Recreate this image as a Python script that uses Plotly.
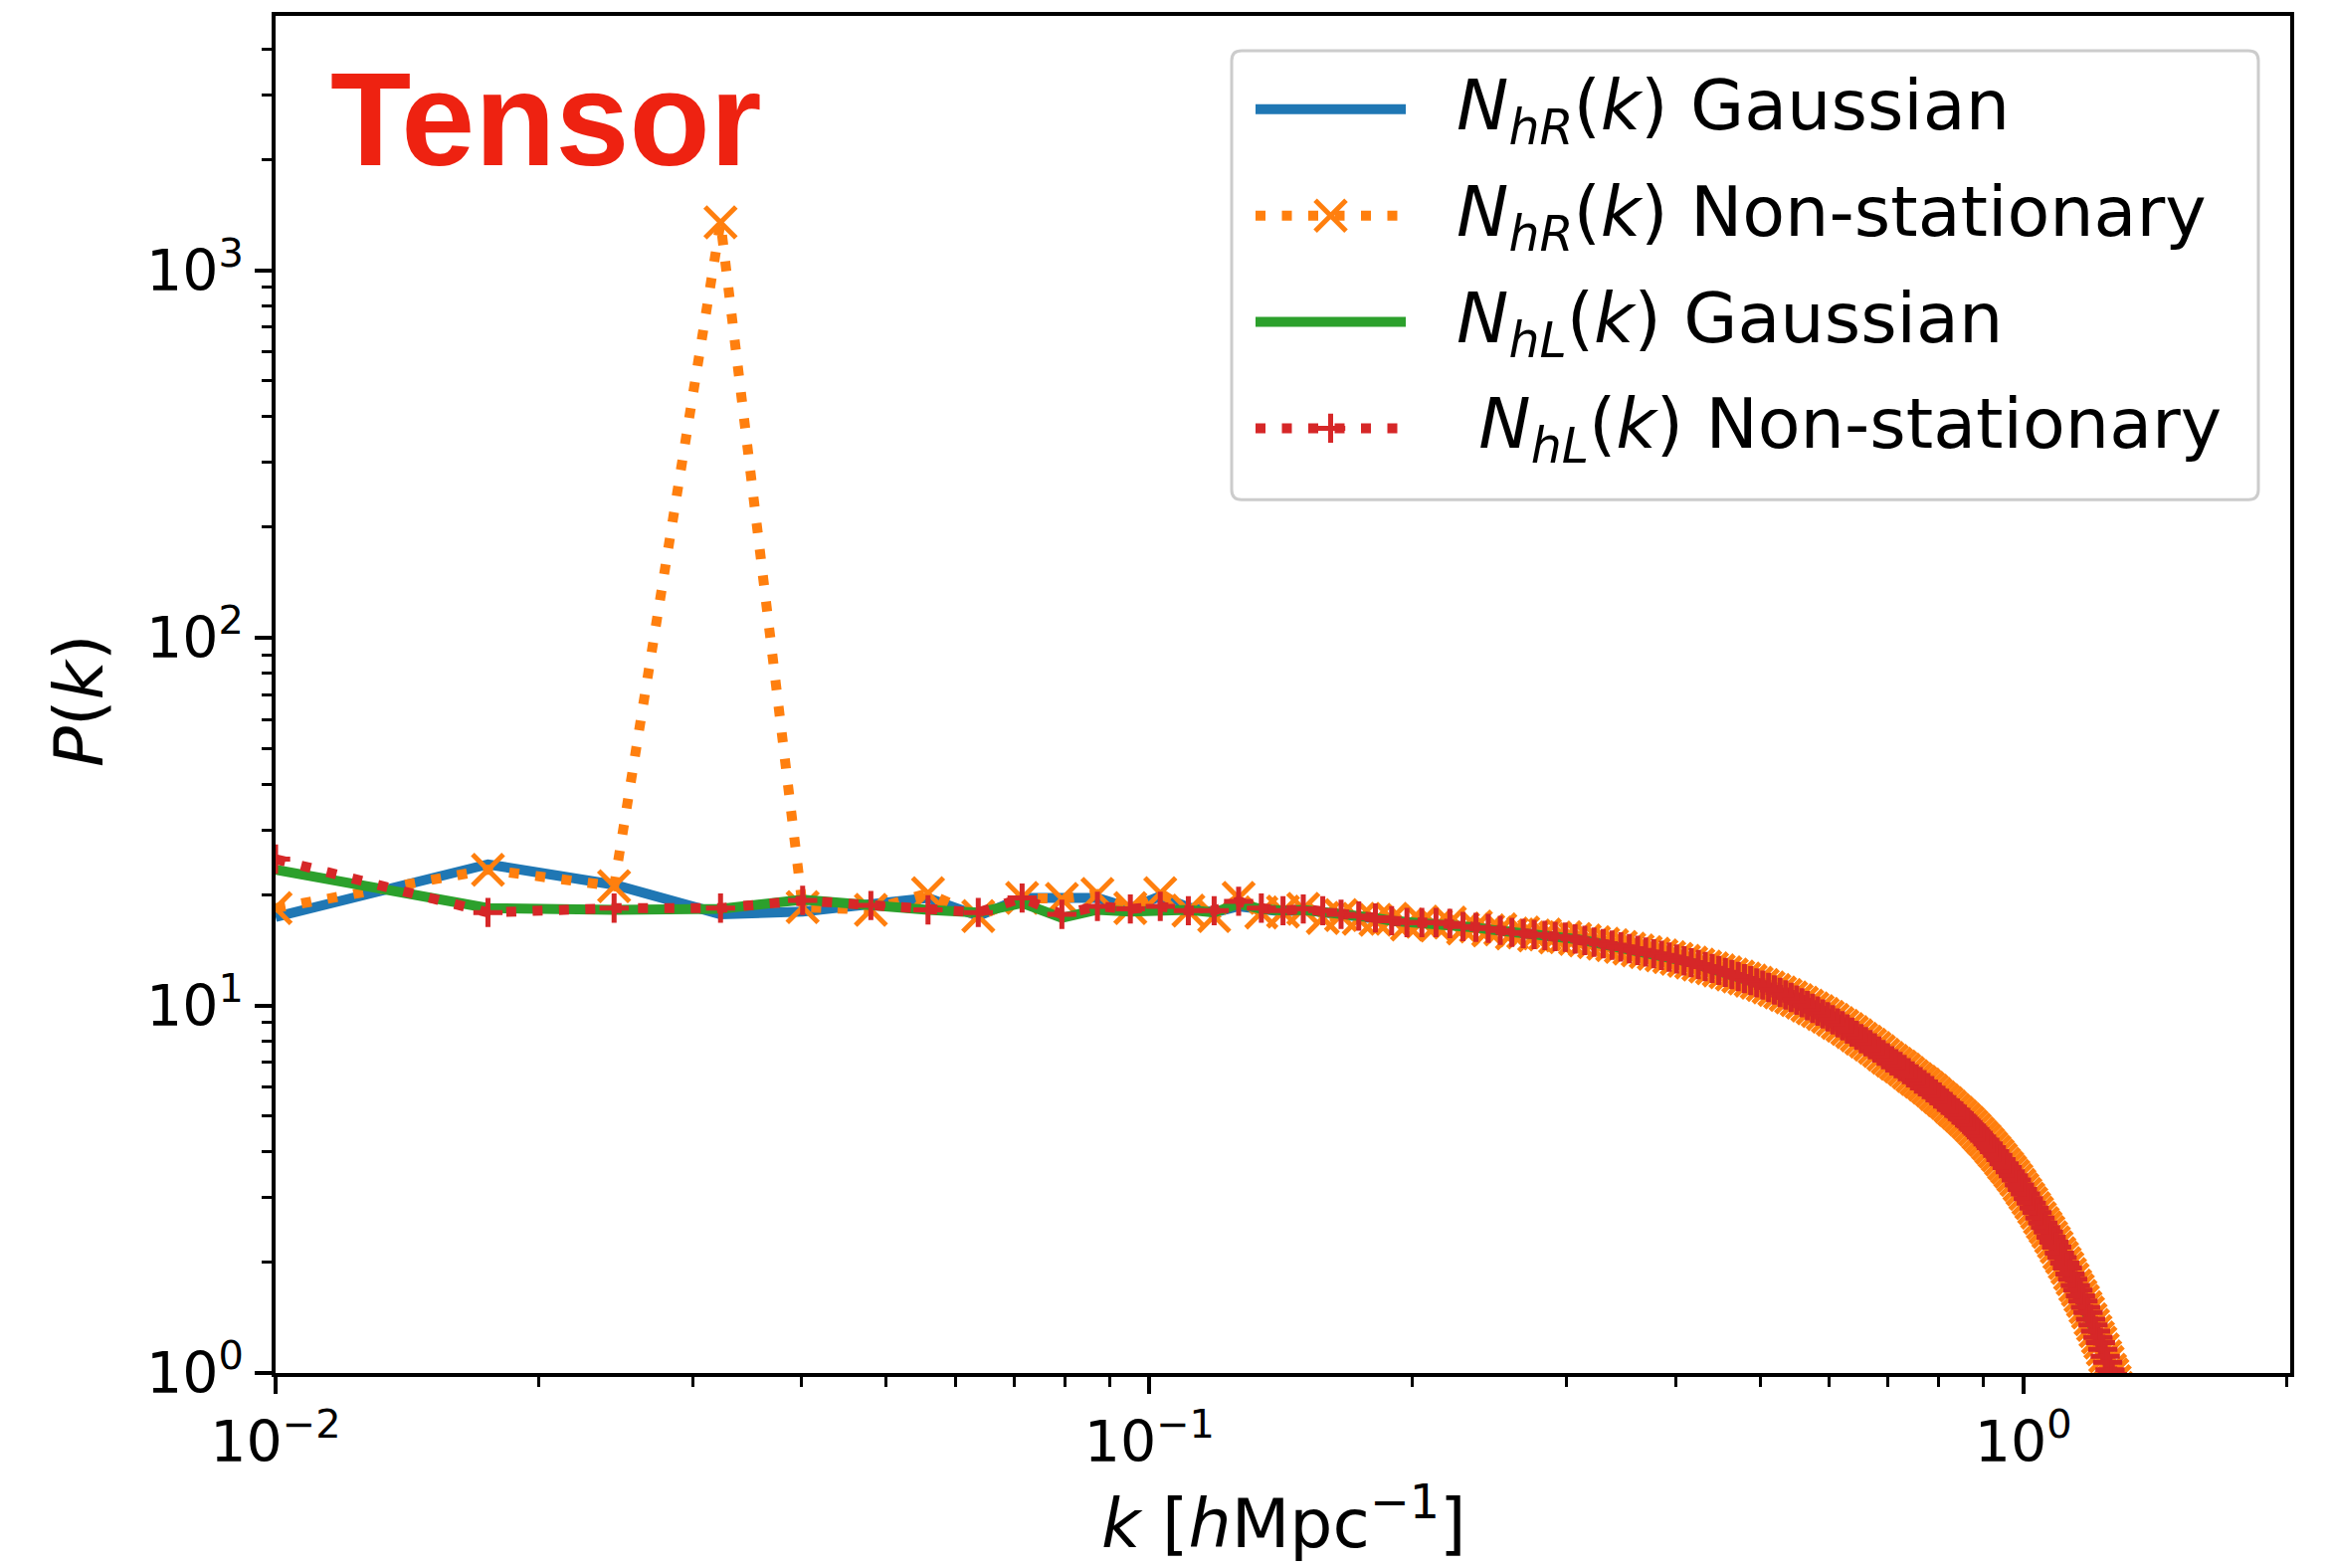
import plotly.graph_objects as go

# ---------------- data ----------------
k = [0.0100, 0.0175, 0.0244, 0.0323, 0.0401, 0.0480, 0.0558, 0.0637, 0.0715, 0.0794,
     0.0872, 0.0951, 0.1029, 0.1108, 0.1186, 0.1265, 0.1343, 0.1422, 0.1500, 0.1579,
     0.1657, 0.1736, 0.1814, 0.1893, 0.1971, 0.2050, 0.2128, 0.2207, 0.2285, 0.2364,
     0.2442, 0.2521, 0.2599, 0.2678, 0.2756, 0.2835, 0.2913, 0.2992, 0.3070, 0.3149,
     0.3227, 0.3306, 0.3384, 0.3463, 0.3541, 0.3620, 0.3698, 0.3777, 0.3855, 0.3934,
     0.4012, 0.4091, 0.4169, 0.4248, 0.4326, 0.4405, 0.4483, 0.4562, 0.4640, 0.4719,
     0.4797, 0.4876, 0.4954, 0.5033, 0.5111, 0.5190, 0.5268, 0.5347, 0.5425, 0.5504,
     0.5582, 0.5661, 0.5739, 0.5818, 0.5896, 0.5975, 0.6053, 0.6132, 0.6210, 0.6289,
     0.6367, 0.6446, 0.6524, 0.6603, 0.6681, 0.6760, 0.6838, 0.6917, 0.6995, 0.7074,
     0.7152, 0.7231, 0.7309, 0.7388, 0.7466, 0.7545, 0.7623, 0.7702, 0.7780, 0.7859,
     0.7937, 0.8016, 0.8094, 0.8173, 0.8251, 0.8330, 0.8408, 0.8487, 0.8565, 0.8644,
     0.8722, 0.8801, 0.8879, 0.8958, 0.9036, 0.9115, 0.9193, 0.9272, 0.9350, 0.9429,
     0.9507, 0.9586, 0.9664, 0.9743, 0.9821, 0.9900, 0.9978, 1.0057, 1.0135, 1.0214,
     1.0292, 1.0371, 1.0449, 1.0528, 1.0606, 1.0685, 1.0763, 1.0842, 1.0920, 1.0999,
     1.1077, 1.1156, 1.1234, 1.1313, 1.1391, 1.1470, 1.1548, 1.1627, 1.1705, 1.1784,
     1.1862, 1.1941, 1.2019, 1.2098, 1.2176, 1.2255, 1.2333, 1.2412, 1.2490, 1.2569,
     1.2647, 1.2726, 1.2804, 1.2883, 1.2961, 1.3040]

# low-k part (first 37 bins) of each series
hR_gauss_low = [17.4, 24.2, 21.3, 17.7, 18.0, 18.9, 19.6, 17.5, 19.6, 19.6,
                19.6, 18.4, 19.8, 18.5, 17.9, 18.6, 18.3, 18.0, 18.2, 17.9,
                17.6, 17.4, 17.2, 17.1, 16.8, 16.9, 16.6, 16.7, 16.3, 16.3,
                16.1, 16.0, 15.8, 15.7, 15.6, 15.5, 15.4]
hR_nonstat_low = [18.4, 23.4, 21.1, 1350, 18.5, 18.2, 20.2, 17.5, 19.6, 19.5,
                  20.1, 18.4, 20.2, 18.1, 17.5, 19.6, 17.9, 18.0, 18.3, 17.3,
                  17.6, 17.2, 17.1, 17.2, 16.6, 16.9, 16.5, 16.8, 16.2, 16.4,
                  16.0, 16.1, 15.7, 15.8, 15.5, 15.6, 15.3]
hL_gauss_low = [23.4, 18.4, 18.2, 18.3, 19.4, 18.6, 18.2, 17.9, 19.0, 17.3,
                18.2, 18.0, 18.0, 18.2, 17.9, 18.9, 18.3, 18.1, 18.2, 18.0,
                17.7, 17.4, 17.3, 17.0, 16.9, 16.8, 16.7, 16.6, 16.4, 16.3,
                16.1, 16.0, 15.8, 15.7, 15.6, 15.5, 15.4]
hL_nonstat_low = [25.0, 17.9, 18.4, 18.4, 19.3, 18.7, 18.2, 17.9, 19.6, 17.7,
                  18.6, 18.3, 18.6, 18.1, 18.1, 19.2, 18.4, 18.1, 18.3, 18.1,
                  17.7, 17.5, 17.3, 17.0, 16.8, 16.8, 16.8, 16.7, 16.4, 16.3,
                  16.2, 16.0, 15.8, 15.7, 15.6, 15.5, 15.4]

# high-k part, where all four spectra coincide
common_tail = [15.33, 15.17, 15.02, 14.86, 14.72, 14.58, 14.43, 14.27, 14.12, 13.97,
               13.82, 13.68, 13.53, 13.38, 13.22, 13.07, 12.91, 12.76, 12.61, 12.45,
               12.30, 12.14, 11.99, 11.83, 11.68, 11.52, 11.36, 11.19, 11.02, 10.85,
               10.68, 10.51, 10.34, 10.17, 9.99, 9.82, 9.65, 9.48, 9.31, 9.14,
               8.96, 8.80, 8.63, 8.46, 8.29, 8.12, 7.97, 7.82, 7.66, 7.51,
               7.35, 7.20, 7.07, 6.94, 6.82, 6.69, 6.56, 6.43, 6.31, 6.20,
               6.09, 5.97, 5.86, 5.74, 5.63, 5.52, 5.42, 5.31, 5.20, 5.10,
               5.00, 4.90, 4.80, 4.70, 4.60, 4.49, 4.39, 4.30, 4.20, 4.10,
               4.00, 3.91, 3.81, 3.71, 3.62, 3.53, 3.44, 3.35, 3.25, 3.16,
               3.07, 2.98, 2.90, 2.81, 2.73, 2.64, 2.56, 2.49, 2.42, 2.34,
               2.27, 2.20, 2.12, 2.06, 1.99, 1.93, 1.86, 1.80, 1.73, 1.68,
               1.62, 1.57, 1.51, 1.46, 1.40, 1.35, 1.30, 1.25, 1.21, 1.16,
               1.11, 1.07, 1.02, 0.99, 0.95, 0.91, 0.87, 0.83, 0.80]

series_names = ["<i>N</i><sub><i>hR</i></sub>(<i>k</i>) Gaussian",
                "<i>N</i><sub><i>hR</i></sub>(<i>k</i>) Non-stationary",
                "<i>N</i><sub><i>hL</i></sub>(<i>k</i>) Gaussian",
                "\u00a0<i>N</i><sub><i>hL</i></sub>(<i>k</i>) Non-stationary"]
series_colors = ["#1f77b4", "#ff7f0e", "#2ca02c", "#d62728"]

x_tickvals = [0.01, 0.1, 1]
x_ticktext = ["10<sup>\u22122</sup>", "10<sup>\u22121</sup>", "10<sup>0</sup>"]
y_tickvals = [1, 10, 100, 1000]
y_ticktext = ["10<sup>0</sup>", "10<sup>1</sup>", "10<sup>2</sup>", "10<sup>3</sup>"]

# ---------------- geometry ----------------
W, H = 2342, 1576
L, R, T, B = 277, 40, 14, 196
PW, PH = W - L - R, H - T - B
FONT = "DejaVu Sans"
LW = 10
DOT = "10px,16.5px"


def pxx(xp):
    return (xp - L) / PW


def pxy(yp):
    return (H - B - yp) / PH


series_values = [hR_gauss_low + common_tail,
                 hR_nonstat_low + common_tail,
                 hL_gauss_low + common_tail,
                 hL_nonstat_low + common_tail]
styles = [
    dict(mode="lines", line=dict(color=series_colors[0], width=LW)),
    dict(mode="lines+markers", line=dict(color=series_colors[1], width=LW, dash=DOT),
         marker=dict(symbol="x-thin", size=31, line=dict(color=series_colors[1], width=5))),
    dict(mode="lines", line=dict(color=series_colors[2], width=LW)),
    dict(mode="lines+markers", line=dict(color=series_colors[3], width=LW, dash=DOT),
         marker=dict(symbol="cross-thin", size=21, line=dict(color=series_colors[3], width=5))),
]

fig = go.Figure()
for name, vals, st in zip(series_names, series_values, styles):
    fig.add_trace(go.Scatter(x=k, y=vals, name=name, showlegend=False, **st))

# ---------------- custom legend (overlay pixel axes) ----------------
rows = [108, 215, 322, 429]
for i, (name, st) in enumerate(zip(series_names, styles)):
    fig.add_trace(go.Scatter(x=[1262, 1413], y=[rows[i], rows[i]], mode="lines",
                             line=st["line"], xaxis="x2", yaxis="y2",
                             showlegend=False, hoverinfo="skip"))
    if "marker" in st:
        fig.add_trace(go.Scatter(x=[1337.5], y=[rows[i]], mode="markers",
                                 marker=st["marker"], xaxis="x2", yaxis="y2",
                                 showlegend=False, hoverinfo="skip"))
    fig.add_annotation(x=pxx(1462), y=pxy(rows[i] + 1), xref="paper", yref="paper",
                       text=name, showarrow=False, xanchor="left", yanchor="middle",
                       font=dict(family=FONT, size=70, color="black"))

x0, x1, y0, y1, r = 1238, 2270, 49, 501, 10
path = (f"M{x0+r},{y0} L{x1-r},{y0} Q{x1},{y0} {x1},{y0+r} L{x1},{y1-r} "
        f"Q{x1},{y1} {x1-r},{y1} L{x0+r},{y1} Q{x0},{y1} {x0},{y1-r} "
        f"L{x0},{y0+r} Q{x0},{y0} {x0+r},{y0} Z")
fig.add_shape(type="path", path=path, xref="x2", yref="y2", layer="below",
              line=dict(color="#cccccc", width=3), fillcolor="rgba(255,255,255,0.8)")

# "Tensor" label
fig.add_annotation(x=pxx(330), y=pxy(118), xref="paper", yref="paper",
                   text="<b>Tensor</b>", showarrow=False, xanchor="left", yanchor="middle",
                   font=dict(family="Liberation Sans", size=133, color="#ee2211"))

# axis titles
fig.add_annotation(x=pxx(1290), y=pxy(1527), xref="paper", yref="paper",
                   text="<i>k</i> [<i>h</i>Mpc<sup>\u22121</sup>]", showarrow=False,
                   xanchor="center", yanchor="middle",
                   font=dict(family=FONT, size=68, color="black"))
fig.add_annotation(x=pxx(80), y=pxy(704), xref="paper", yref="paper",
                   text="<i>P</i>(<i>k</i>)", showarrow=False, textangle=-90,
                   xanchor="center", yanchor="middle",
                   font=dict(family=FONT, size=68, color="black"))

x_minor = [m * 10 ** e for e in (-2, -1) for m in range(2, 10)] + [2.0]
y_minor = [m * 10 ** e for e in (0, 1, 2, 3) for m in range(2, 10) if m * 10 ** e < 4900]

axis_common = dict(showline=True, linecolor="black", linewidth=3.5, mirror=True,
                   ticks="outside", ticklen=17, tickwidth=3.5, tickcolor="black",
                   showgrid=False, zeroline=False,
                   tickfont=dict(family=FONT, size=57, color="black"))

fig.update_layout(
    width=W, height=H, autosize=False,
    margin=dict(l=L, r=R, t=T, b=B, pad=0),
    paper_bgcolor="white", plot_bgcolor="white",
    showlegend=False,
    xaxis=dict(type="log", range=[-2, 0.3055], tickmode="array",
               tickvals=x_tickvals, ticktext=x_ticktext,
               minor=dict(ticks="outside", ticklen=10, tickwidth=2.8, tickcolor="black",
                          tickmode="array", tickvals=x_minor, showgrid=False),
               **axis_common),
    yaxis=dict(type="log", range=[0, 3.692], tickmode="array",
               tickvals=y_tickvals, ticktext=y_ticktext,
               minor=dict(ticks="outside", ticklen=10, tickwidth=2.8, tickcolor="black",
                          tickmode="array", tickvals=y_minor, showgrid=False),
               **axis_common),
    xaxis2=dict(overlaying="x", range=[L, W - R], visible=False, anchor="y2"),
    yaxis2=dict(overlaying="y", range=[H - B, T], visible=False, anchor="x2"),
)

fig.write_html("out.html")
